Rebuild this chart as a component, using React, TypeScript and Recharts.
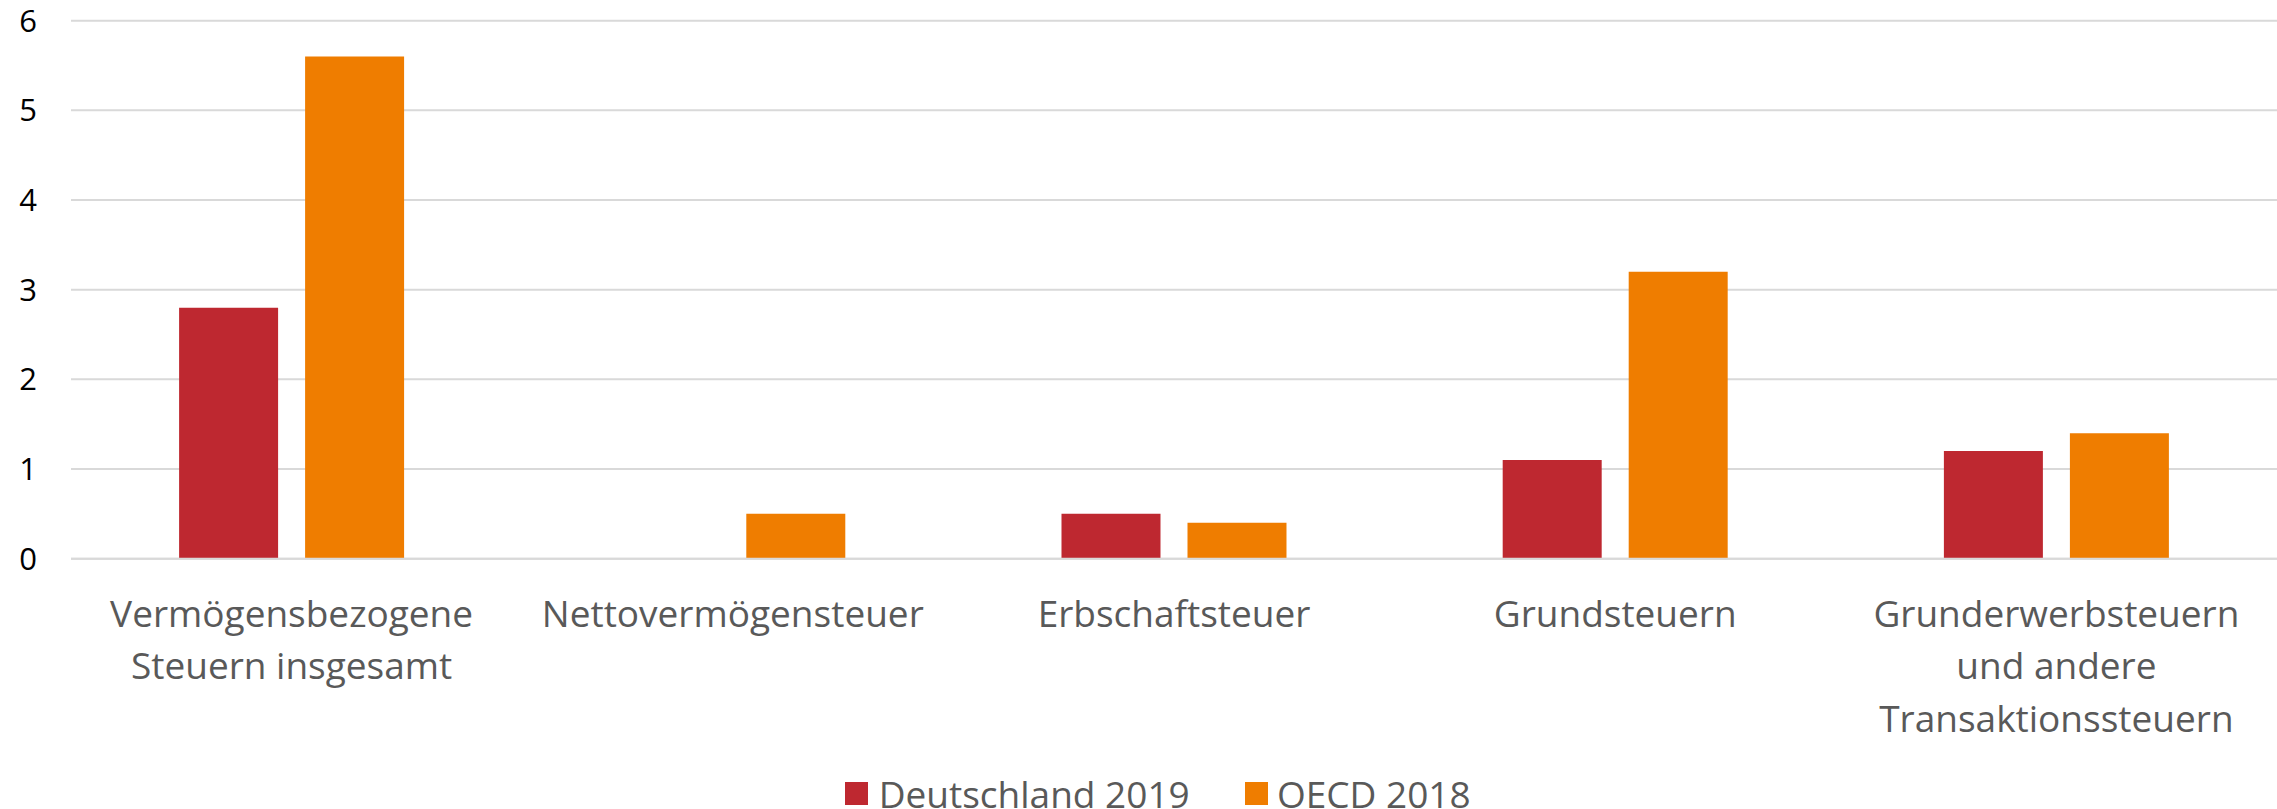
import React from 'react';
import { BarChart, Bar, XAxis, YAxis, CartesianGrid, Legend } from 'recharts';

const categories: string[] = [
  'Vermögensbezogene\nSteuern insgesamt',
  'Nettovermögensteuer',
  'Erbschaftsteuer',
  'Grundsteuern',
  'Grunderwerbsteuern\nund andere\nTransaktionssteuern',
];
const deutschland2019: (number | null)[] = [2.8, null, 0.5, 1.1, 1.2];
const oecd2018: number[] = [5.6, 0.5, 0.4, 3.2, 1.4];
const yTicks: number[] = [0, 1, 2, 3, 4, 5, 6];
const seriesNames: string[] = ['Deutschland 2019', 'OECD 2018'];
const seriesColors: string[] = ['#BE2830', '#EF7D00'];

const data = categories.map((c, i) => ({
  category: c,
  de: deutschland2019[i],
  oecd: oecd2018[i],
}));

const FONT = "'Open Sans', sans-serif";

const CategoryTick = (props: any) => {
  const { x, y, payload } = props;
  const lines = String(payload.value).split('\n');
  return (
    <text x={x} y={y} textAnchor="middle" fill="#595959" fontSize={37} fontFamily={FONT}>
      {lines.map((l, i) => (
        <tspan key={i} x={x} dy={i === 0 ? 68 : 52.5}>
          {l}
        </tspan>
      ))}
    </text>
  );
};

const LegendContent = (props: any) => {
  const payload: any[] = props.payload || [];
  return (
    <div
      style={{
        height: 64,
        boxSizing: 'border-box',
        paddingTop: 29.5,
        paddingLeft: 845,
        display: 'flex',
        alignItems: 'flex-start',
        fontFamily: FONT,
        fontSize: 37,
        lineHeight: '37px',
        color: '#595959',
        whiteSpace: 'nowrap',
      }}
    >
      {payload.map((p, i) => (
        <div
          key={i}
          style={{ display: 'flex', alignItems: 'center', height: 37, marginRight: i === 0 ? 55 : 0 }}
        >
          <span
            style={{
              display: 'inline-block',
              width: 23,
              height: 23,
              background: p.color,
              marginRight: i === 0 ? 10.7 : 9.2,
            }}
          />
          <span>{p.value}</span>
        </div>
      ))}
    </div>
  );
};

export default function App() {
  return (
    <div style={{ position: 'absolute', left: 0, top: 0, width: 2277, height: 809, background: '#fff' }}>
      <BarChart
        width={2277}
        height={809}
        data={data}
        margin={{ top: 20.7, right: 0, left: 0, bottom: 0 }}
        barCategoryGap="24.5%"
        barGap={27}
      >
        <CartesianGrid vertical={false} stroke="#d9d9d9" strokeWidth={2} />
        <XAxis
          dataKey="category"
          interval={0}
          tickSize={0}
          tickMargin={0}
          tickLine={false}
          axisLine={{ stroke: '#d9d9d9', strokeWidth: 2 }}
          height={186.3}
          tick={<CategoryTick />}
        />
        <YAxis
          width={71}
          domain={[0, 6]}
          ticks={yTicks}
          tickSize={0}
          tickMargin={34}
          tickLine={false}
          axisLine={false}
          tick={{ fontSize: 31, fill: '#000000', fontFamily: FONT }}
        />
        <Legend verticalAlign="bottom" content={<LegendContent />} />
        <Bar dataKey="de" name={seriesNames[0]} fill={seriesColors[0]} isAnimationActive={false} />
        <Bar dataKey="oecd" name={seriesNames[1]} fill={seriesColors[1]} isAnimationActive={false} />
      </BarChart>
    </div>
  );
}
